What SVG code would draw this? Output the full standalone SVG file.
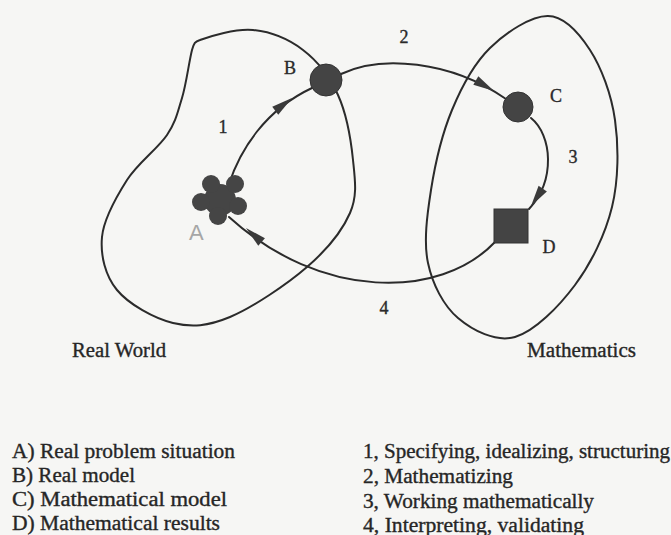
<svg xmlns="http://www.w3.org/2000/svg" xmlns:xlink="http://www.w3.org/1999/xlink" width="671" height="535" viewBox="0 0 671 535">
<style>
.ln{fill:none;stroke:#2b2b2b;stroke-width:2;stroke-linecap:round}
.nd{fill:#444;stroke:#333;stroke-width:1}
.ah{fill:#3a3a3a}
.lb{font-family:"Liberation Serif",serif;font-size:18px;fill:#2a2a2a;stroke:#2a2a2a;stroke-width:0.35;text-anchor:middle}
.lg{font-family:"Liberation Serif",serif;font-size:20px;fill:#262626;stroke:#262626;stroke-width:0.35}
.hw{font-family:"Liberation Sans",sans-serif;font-size:22px;fill:#a6a6a6}
</style>
<defs>
<path id="ah" d="M0,0 L-21,-5 L-21,5 Z"/>
</defs>
<rect x="0" y="0" width="671" height="535" fill="#f6f6f4"/>

<g id="region-real">
<path class="ln" d="M200,40 C210,36.3 235.8,28.3 253,30 C270.2,31.7 288.8,39.2 303,50 C317.2,60.8 329.7,76.7 338,95 C346.3,113.3 351,140.3 353,160 C355,179.7 357.7,195.2 350,213 C342.3,230.8 327,249.7 307,267 C287,284.3 252.3,307.7 230,317 C207.7,326.3 191.8,327.5 173,323 C154.2,318.5 128.8,304.3 117,290 C105.2,275.7 100.3,255.3 102,237 C103.7,218.7 116.2,197 127,180 C137.8,163 157.8,148.7 167,135 C176.2,121.3 177.7,111.8 182,98 C186.3,84.2 189,61.7 192,50 C194,43 195,41.5 200,40 Z"/>
<text class="lg" x="72" y="357" textLength="94" lengthAdjust="spacingAndGlyphs">Real World</text>
</g>

<g id="region-math">
<path class="ln" d="M548,16 C564.7,16.3 578.8,32.7 590,50 C601.2,67.3 611.3,93.8 615,120 C618.7,146.2 618.7,179.5 612,207 C605.3,234.5 591.2,263.3 575,285 C558.8,306.7 534.5,331.5 515,337 C495.5,342.5 472.5,330.3 458,318 C443.5,305.7 432.5,284.3 428,263 C423.5,241.7 427,215.5 431,190 C435,164.5 442.2,133.7 452,110 C461.8,86.3 474,63.7 490,48 C506,32.3 531.3,15.7 548,16 Z"/>
<text class="lg" x="527" y="357" textLength="109" lengthAdjust="spacingAndGlyphs">Mathematics</text>
</g>

<g id="connectors">
<path id="c1" class="ln" d="M229,184 C240,150 265,110 312,88"/>
<use class="ah" xlink:href="#ah" href="#ah" transform="translate(292,98) rotate(-37)"/>
<text class="lb" x="223" y="133">1</text>
<path id="c2" class="ln" d="M341,74 C380,55 450,60 506,99"/>
<use class="ah" xlink:href="#ah" href="#ah" transform="translate(494,91) rotate(30)"/>
<text class="lb" x="404" y="43">2</text>
<path id="c3" class="ln" d="M531,118 C552,135 556,180 529,209"/>
<use class="ah" xlink:href="#ah" href="#ah" transform="translate(531,206) rotate(124)"/>
<text class="lb" x="573" y="163">3</text>
<path id="c4" class="ln" d="M495,242 C440,300 320,300 229,217"/>
<use class="ah" xlink:href="#ah" href="#ah" transform="translate(246,228) rotate(-138)"/>
<text class="lb" x="384" y="314">4</text>
</g>

<g id="node-A">
<g fill="#454545">
<circle cx="220" cy="200" r="16"/>
<circle cx="211" cy="184" r="9"/>
<circle cx="235" cy="184" r="9"/>
<circle cx="238" cy="206" r="9"/>
<circle cx="218" cy="216" r="9"/>
<circle cx="201" cy="202" r="9"/>
</g>
<text class="hw" x="189" y="240">A</text>
</g>

<g id="node-B">
<circle class="nd" cx="326" cy="80" r="16"/>
<text class="lb" x="290" y="74">B</text>
</g>

<g id="node-C">
<circle class="nd" cx="518" cy="107" r="15"/>
<text class="lb" x="556" y="102">C</text>
</g>

<g id="node-D">
<rect class="nd" x="494" y="209" width="34" height="34"/>
<text class="lb" x="549" y="253">D</text>
</g>

<g id="legend">
<text class="lg" x="12" y="458" textLength="223" lengthAdjust="spacingAndGlyphs">A) Real problem situation</text>
<text class="lg" x="12" y="482" textLength="123" lengthAdjust="spacingAndGlyphs">B) Real model</text>
<text class="lg" x="12" y="506" textLength="215" lengthAdjust="spacingAndGlyphs">C) Mathematical model</text>
<text class="lg" x="12" y="530" textLength="208" lengthAdjust="spacingAndGlyphs">D) Mathematical results</text>
<text class="lg" x="363" y="458" textLength="307" lengthAdjust="spacingAndGlyphs">1, Specifying, idealizing, structuring</text>
<text class="lg" x="363" y="483" textLength="150" lengthAdjust="spacingAndGlyphs">2, Mathematizing</text>
<text class="lg" x="363" y="508" textLength="231" lengthAdjust="spacingAndGlyphs">3, Working mathematically</text>
<text class="lg" x="363" y="532" textLength="221" lengthAdjust="spacingAndGlyphs">4, Interpreting, validating</text>
</g>
</svg>
